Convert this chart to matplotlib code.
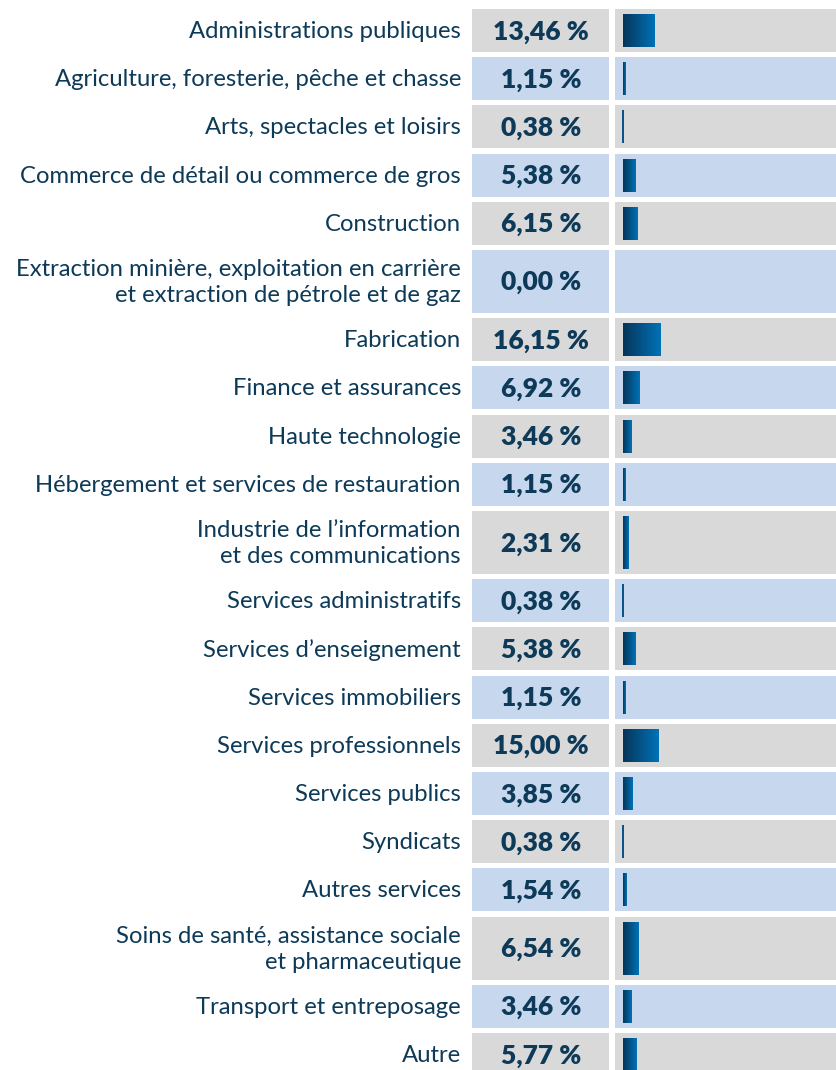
import numpy as np
import matplotlib
matplotlib.use("Agg")
import matplotlib.pyplot as plt
from matplotlib.colors import LinearSegmentedColormap

categories = [
    "Administrations publiques",
    "Agriculture, foresterie, pêche et chasse",
    "Arts, spectacles et loisirs",
    "Commerce de détail ou commerce de gros",
    "Construction",
    "Extraction minière, exploitation en carrière\net extraction de pétrole et de gaz",
    "Fabrication",
    "Finance et assurances",
    "Haute technologie",
    "Hébergement et services de restauration",
    "Industrie de l’information\net des communications",
    "Services administratifs",
    "Services d’enseignement",
    "Services immobiliers",
    "Services professionnels",
    "Services publics",
    "Syndicats",
    "Autres services",
    "Soins de santé, assistance sociale\net pharmaceutique",
    "Transport et entreposage",
    "Autre",
]
values = [13.46, 1.15, 0.38, 5.38, 6.15, 0.00, 16.15, 6.92, 3.46, 1.15, 2.31,
          0.38, 5.38, 1.15, 15.00, 3.85, 0.38, 1.54, 6.54, 3.46, 5.77]

W, H = 837, 1070
text_col = "#0d3a58"
gray = "#d9d9d9"
blue = "#c7d8ee"
grad = LinearSegmentedColormap.from_list("g", ["#06365a", "#0072b6"])

fig = plt.figure(figsize=(W / 100, H / 100), dpi=100)
ax = fig.add_axes([0, 0, 1, 1])
ax.set_xlim(0, W)
ax.set_ylim(H, 0)
ax.axis("off")

# bar panel: x in percent
px_per_pct = 2.35
bx0, bx1, bar_start = 615, W, 623
bax = fig.add_axes([bx0 / W, 0, (bx1 - bx0) / W, 1])
bax.axis("off")

single, double, gap, top = 43, 63, 5.2, 9
y = top
for i, (cat, v) in enumerate(zip(categories, values)):
    h = double if "\n" in cat else single
    bg = gray if i % 2 == 0 else blue
    ax.add_patch(plt.Rectangle((472, y), 609 - 472, h, color=bg, lw=0))
    ax.add_patch(plt.Rectangle((bx0, y), bx1 - bx0, h, color=bg, lw=0))
    yc = y + h / 2
    ax.text(461, yc + 1, cat, ha="right", va="center", fontsize=17.2,
            family="Lato", color=text_col, linespacing=1.3)
    ax.text(541, yc + 1, f"{v:.2f} %".replace(".", ","), ha="center",
            va="center", fontsize=19, family="Lato", weight="heavy",
            color=text_col)
    if v > 0:
        gimg = np.linspace(0, 1, 64).reshape(1, -1)
        bax.imshow(gimg, cmap=grad, aspect="auto", interpolation="bilinear",
                   extent=(0, v, y + h - 5, y + 5), zorder=3)
        if v < 1:
            # very thin bars: keep them visible as a 2px line
            bax.vlines(v / 2, y + 5, y + h - 5, color="#0a5288", lw=1.4,
                       zorder=4)
    y += h + gap

bax.set_xlim(-(bar_start - bx0) / px_per_pct, (bx1 - bar_start) / px_per_pct)
bax.set_ylim(H, 0)

fig.savefig("out.png", dpi=100)
